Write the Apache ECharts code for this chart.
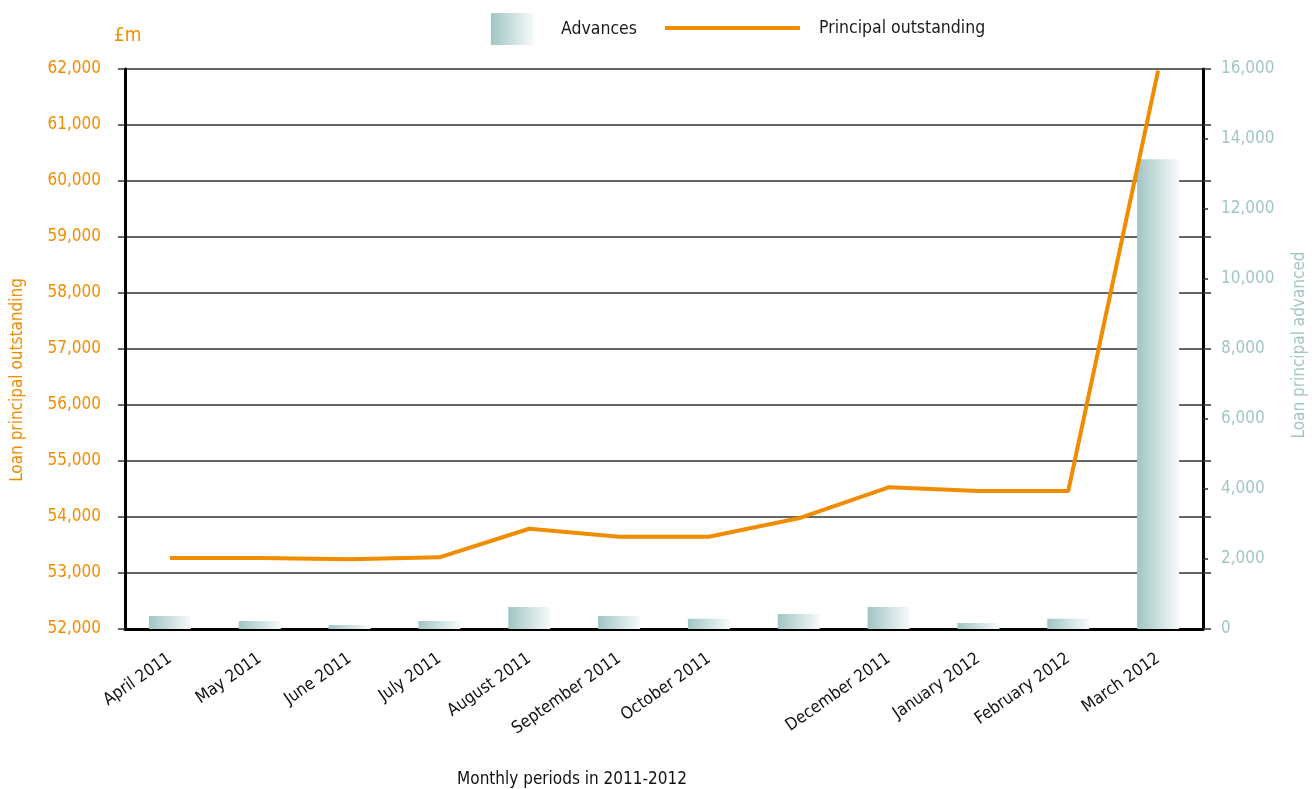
<!DOCTYPE html>
<html>
<head>
<meta charset="utf-8">
<script src="https://cdn.jsdelivr.net/npm/echarts@6/dist/echarts.min.js"></script>
<style>
html,body{margin:0;padding:0;background:#fff;}
#chart{width:1312px;height:789px;}
</style>
</head>
<body>
<div id="chart"></div>
<script>
// ---- data ----
var xLabels = ['April 2011','May 2011','June 2011','July 2011','August 2011','September 2011','October 2011','','December 2011','January 2012','February 2012','March 2012'];
var advances = [373, 230, 115, 230, 630, 373, 295, 430, 630, 172, 295, 13420];
var principalOutstanding = [53270, 53270, 53245, 53280, 53790, 53648, 53648, 53977, 54530, 54464, 54464, 61970];
var leftTicks = {min: 52000, max: 62000, step: 1000};
var rightTicks = {min: 0, max: 16000, step: 2000};

var FONT = "'Liberation Sans Narrow','Arial Narrow','DejaVu Sans Condensed',sans-serif";
var ORANGE = '#f08c00';
var TEAL = '#a3c6c5';

var chart = echarts.init(document.getElementById('chart'));
var barGrad = new echarts.graphic.LinearGradient(0, 0, 1, 0, [
  {offset: 0, color: '#a1c5c4'},
  {offset: 1, color: '#f7fafa'}
]);
var fmt = function (v) { return v.toLocaleString('en-GB'); };

chart.setOption({
  animation: false,
  textStyle: {fontFamily: FONT},
  grid: {left: 125, right: 109, top: 69, bottom: 160},
  legend: [{
    data: ['Advances'],
    left: 491, top: 13, padding: 0,
    itemWidth: 43, itemHeight: 32,
    icon: 'rect',
    textStyle: {fontFamily: FONT, fontSize: 17.5, color: '#1a1a1a', padding: [0, 0, 0, 22]}
  }, {
    data: ['Principal outstanding'],
    left: 665, top: 19, padding: 0,
    itemWidth: 135, itemHeight: 4,
    icon: 'rect',
    textStyle: {fontFamily: FONT, fontSize: 17.5, color: '#1a1a1a', padding: [0, 0, 0, 14]}
  }],
  xAxis: {
    type: 'category',
    data: xLabels,
    boundaryGap: true,
    axisLine: {show: true, lineStyle: {color: '#000', width: 3}},
    axisTick: {show: false},
    axisLabel: {rotate: 35, margin: 28, fontFamily: FONT, fontSize: 17, color: '#111', interval: 0}
  },
  yAxis: [{
    type: 'value', position: 'left',
    min: leftTicks.min, max: leftTicks.max, interval: leftTicks.step,
    axisLine: {show: true, lineStyle: {color: '#000', width: 3}},
    axisTick: {show: true, length: 7, lineStyle: {color: '#333', width: 1.5}},
    axisLabel: {margin: 24, fontFamily: FONT, fontSize: 17, color: ORANGE, formatter: fmt},
    splitLine: {show: true, lineStyle: {color: '#333', width: 1.5}}
  }, {
    type: 'value', position: 'right',
    min: rightTicks.min, max: rightTicks.max, interval: rightTicks.step,
    axisLine: {show: true, lineStyle: {color: '#000', width: 3}},
    axisTick: {show: true, length: 5, lineStyle: {color: '#333', width: 1.5}},
    axisLabel: {margin: 18, fontFamily: FONT, fontSize: 17, color: TEAL, formatter: fmt},
    splitLine: {show: false}
  }, {
    type: 'value', position: 'right',
    min: leftTicks.min, max: leftTicks.max, interval: leftTicks.step,
    axisLine: {show: false},
    axisTick: {show: true, length: 8, lineStyle: {color: '#333', width: 1.5}},
    axisLabel: {show: false},
    splitLine: {show: false}
  }],
  series: [{
    name: 'Advances',
    type: 'bar',
    yAxisIndex: 1,
    data: advances,
    barWidth: 42,
    itemStyle: {color: barGrad},
    z: 1
  }, {
    name: 'Principal outstanding',
    type: 'line',
    yAxisIndex: 0,
    data: principalOutstanding,
    symbol: 'none',
    lineStyle: {color: ORANGE, width: 4},
    itemStyle: {color: ORANGE},
    z: 3
  }],
  graphic: [{
    type: 'text', left: 114, top: 27,
    style: {text: '£m', fill: ORANGE, font: '19px ' + FONT}
  }, {
    type: 'text', x: 18, y: 380, rotation: Math.PI / 2,
    style: {text: 'Loan principal outstanding', fill: ORANGE, font: '17px ' + FONT, align: 'center', verticalAlign: 'middle'}
  }, {
    type: 'text', x: 1300, y: 345, rotation: Math.PI / 2,
    style: {text: 'Loan principal advanced', fill: TEAL, font: '17px ' + FONT, align: 'center', verticalAlign: 'middle'}
  }, {
    type: 'text', x: 572, y: 780,
    style: {text: 'Monthly periods in 2011-2012', fill: '#111', font: '17px ' + FONT, align: 'center', verticalAlign: 'middle'}
  }]
});
</script>
</body>
</html>
